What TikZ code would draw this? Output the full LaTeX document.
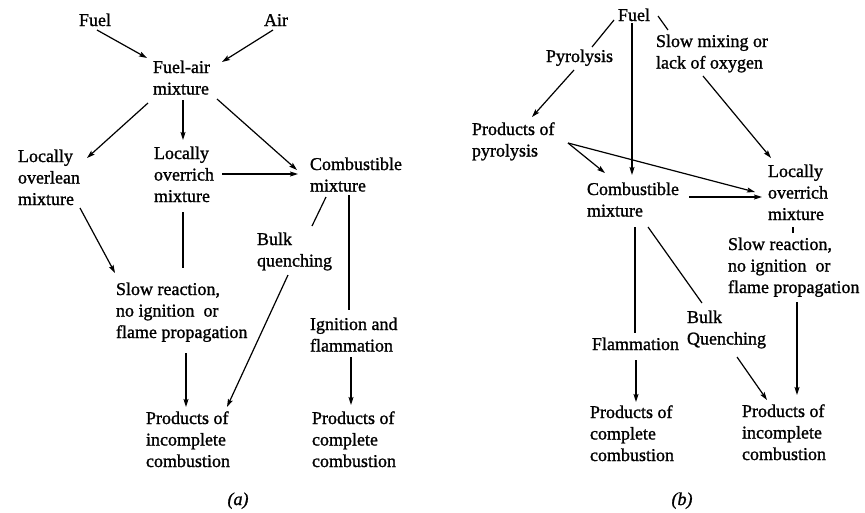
\documentclass[tikz,border=0pt]{standalone}
\usepackage{fontspec}
\setmainfont{Liberation Serif}[FakeBold=1.2]
\usetikzlibrary{arrows.meta}
\newcommand\lbf{\fontsize{18}{21.5}\selectfont}
\newcommand\ml[1]{\begin{tabular}[t]{@{}l@{}}#1\end{tabular}}
\tikzset{
  lbl/.style={anchor=base west, inner sep=0pt, outer sep=0pt, font=\lbf},
  figcap/.style={anchor=base, inner sep=0pt, font=\lbf\itshape},
  arr/.style={line width=1.2pt, -{Stealth[length=8pt,width=5pt,inset=1.5pt]}},
  ln/.style={line width=1.2pt}
}
\begin{document}
\begin{tikzpicture}[x=1pt,y=-1pt]
\useasboundingbox (0,0) rectangle (865,512);
% ---------- panel (a) ----------
\node[lbl] (fA) at (79,26) {Fuel};
\node[lbl] (airA) at (264,26) {Air};
\node[lbl] (fa) at (153,73) {\ml{Fuel-air\\mixture}};
\node[lbl] (lean) at (18,162) {\ml{Locally\\overlean\\mixture}};
\node[lbl] (rich) at (154,159) {\ml{Locally\\overrich\\mixture}};
\node[lbl] (comb) at (310,170) {\ml{Combustible\\mixture}};
\node[lbl] (bulk) at (257,245) {\ml{Bulk\\quenching}};
\node[lbl] (slow) at (116,295) {\ml{Slow reaction,\\no ignition~~or\\flame propagation}};
\node[lbl] (ign) at (310,330) {\ml{Ignition and\\flammation}};
\node[lbl] (pinc) at (146,424) {\ml{Products of\\incomplete\\combustion}};
\node[lbl] (pcom) at (312,424) {\ml{Products of\\complete\\combustion}};
\node[figcap] (capA) at (238,505) {(a)};

\draw[arr] ([shift={(18,4)}]fA.base west) -- ([shift={(-6,-15)}]fa.base west);
\draw[arr] ([shift={(9,4)}]airA.base west) -- ([shift={(69,-11)}]fa.base west);
\draw[arr] ([shift={(-5,30)}]fa.base west) -- ([shift={(69,-4)}]lean.base west);
\draw[arr] ([shift={(30,27)}]fa.base west) -- ([shift={(29,-19)}]rich.base west);
\draw[arr] ([shift={(64,26)}]fa.base west) -- ([shift={(-13,0)}]comb.base west);
\draw[arr] ([shift={(68,15)}]rich.base west) -- ([shift={(-12,4)}]comb.base west);
\draw[ln] ([shift={(16,27)}]comb.base west) -- ([shift={(55,-19)}]bulk.base west);
\draw[ln] ([shift={(39,25)}]comb.base west) -- ([shift={(39,-20)}]ign.base west);
\draw[arr] ([shift={(62,46)}]lean.base west) -- ([shift={(-1,-22)}]slow.base west);
\draw[ln] ([shift={(29,53)}]rich.base west) -- ([shift={(67,-27)}]slow.base west);
\draw[arr] ([shift={(70,58)}]slow.base west) -- ([shift={(40,-17)}]pinc.base west);
\draw[arr] ([shift={(31,30)}]bulk.base west) -- ([shift={(81,-17)}]pinc.base west);
\draw[arr] ([shift={(41,27)}]ign.base west) -- ([shift={(39,-19)}]pcom.base west);

% ---------- panel (b) ----------
\node[lbl] (fB) at (618,21) {Fuel};
\node[lbl] (pyr) at (546,62) {Pyrolysis};
\node[lbl] (smix) at (656,47) {\ml{Slow mixing or\\lack of oxygen}};
\node[lbl] (ppyr) at (472,135) {\ml{Products of\\pyrolysis}};
\node[lbl] (combB) at (587,195) {\ml{Combustible\\mixture}};
\node[lbl] (richB) at (768,177) {\ml{Locally\\overrich\\mixture}};
\node[lbl] (slowB) at (728,250) {\ml{Slow reaction,\\no ignition~~or\\flame propagation}};
\node[lbl] (bulkB) at (687,323) {\ml{Bulk\\Quenching}};
\node[lbl] (flam) at (592,350) {Flammation};
\node[lbl] (pcomB) at (590,418) {\ml{Products of\\complete\\combustion}};
\node[lbl] (pincB) at (742,417) {\ml{Products of\\incomplete\\combustion}};
\node[figcap] (capB) at (682,505) {(b)};

\draw[ln] ([shift={(-4,-1)}]fB.base west) -- ([shift={(46,-15)}]pyr.base west);
\draw[arr] ([shift={(28,8)}]pyr.base west) -- ([shift={(60,-18)}]ppyr.base west);
\draw[arr] ([shift={(14,2)}]fB.base west) -- ([shift={(45,-20)}]combB.base west);
\draw[ln] ([shift={(40,-5)}]fB.base west) -- ([shift={(12,-17)}]smix.base west);
\draw[arr] ([shift={(47,29)}]smix.base west) -- ([shift={(3,-19)}]richB.base west);
\draw[arr] ([shift={(96,8)}]ppyr.base west) -- ([shift={(18,-22)}]combB.base west);
\draw[arr] ([shift={(96,8)}]ppyr.base west) -- ([shift={(-13,15)}]richB.base west);
\draw[arr] ([shift={(102,2)}]combB.base west) -- ([shift={(-6,20)}]richB.base west);
\draw[ln] ([shift={(25,50)}]richB.base west) -- ([shift={(65,-17)}]slowB.base west);
\draw[ln] ([shift={(48,32)}]combB.base west) -- ([shift={(43,-17)}]flam.base west);
\draw[ln] ([shift={(61,32)}]combB.base west) -- ([shift={(15,-20)}]bulkB.base west);
\draw[arr] ([shift={(44,10)}]flam.base west) -- ([shift={(46,-16)}]pcomB.base west);
\draw[arr] ([shift={(50,34)}]bulkB.base west) -- ([shift={(25,-17)}]pincB.base west);
\draw[arr] ([shift={(69,52)}]slowB.base west) -- ([shift={(55,-22)}]pincB.base west);
\end{tikzpicture}
\end{document}
